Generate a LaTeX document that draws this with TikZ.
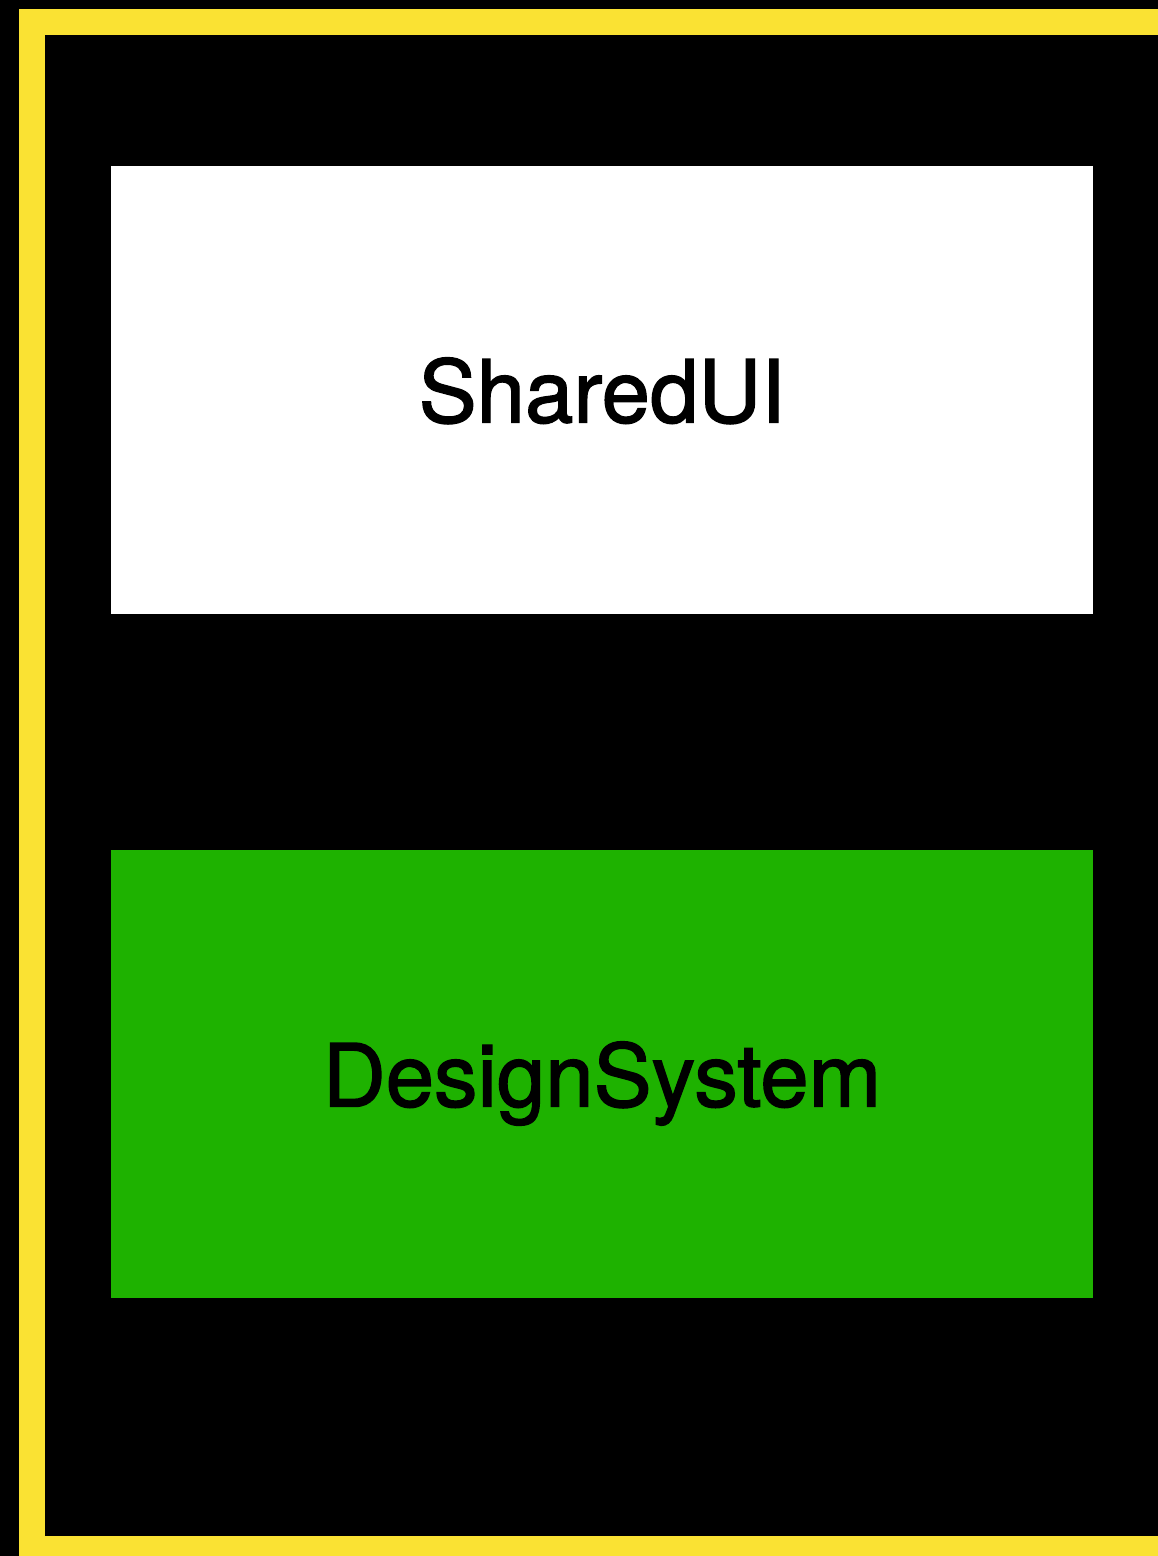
\documentclass[tikz,border=0pt]{standalone}
\usepackage{fontspec}
\setmainfont{TeX Gyre Heros}[FakeBold=1.6]
\definecolor{frameyellow}{HTML}{FAE233}
\definecolor{dsgreen}{HTML}{1EB200}
\begin{document}
\begin{tikzpicture}[
  x=1pt, y=-1pt,
  module/.style={rectangle, draw=frameyellow, line width=26.5pt, minimum width=1140pt, minimum height=1527pt, inner sep=0pt},
  layer/.style={rectangle, minimum width=982pt, minimum height=448pt, inner sep=0pt, text depth=0pt, font=\fontsize{87}{100}\selectfont, text=black}
]
  % page and black background
  \useasboundingbox (0,0) rectangle (1158,1556);
  \clip (0,0) rectangle (1158,1556);
  \fill[black] (0,0) rectangle (1158,1556);

  % yellow module frame (runs off the right and bottom edges)
  \node[module] (frame) at (601.75, 785.5) {};

  % layers
  \node[layer, fill=white] (shared) at (602, 390) {SharedUI};
  \node[layer, fill=dsgreen] (design) at (602, 1074) {DesignSystem};
\end{tikzpicture}
\end{document}
